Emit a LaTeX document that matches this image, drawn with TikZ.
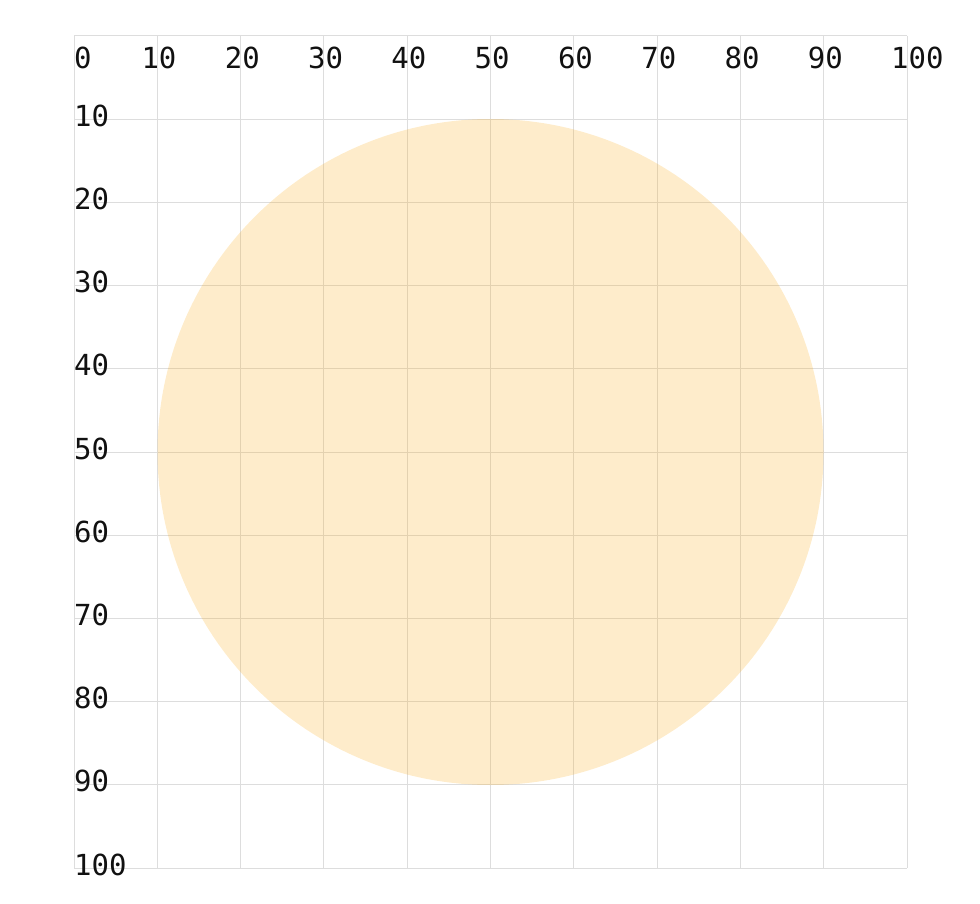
\documentclass[tikz,border=0pt]{standalone}
\usepackage{fontspec}
\setmonofont{DejaVu Sans Mono}
\begin{document}
\begin{tikzpicture}[x=1pt,y=-1pt,
  gridline/.style={draw={rgb,255:red,221;green,221;blue,221}, line width=1pt},
  lbl/.style={font=\ttfamily\fontsize{29}{29}\selectfont, inner sep=0pt, anchor=base west, text={rgb,255:red,17;green,17;blue,17}}]
\useasboundingbox (0,0) rectangle (980,904);
\foreach \i in {0,...,10} {
  \draw[gridline] ({74+83.3*\i},36) -- ({74+83.3*\i},868);
  \draw[gridline] (74,{36+83.2*\i}) -- (907,{36+83.2*\i});
}
\node[circle, fill={rgb,255:red,250;green,170;blue,20}, fill opacity=0.22, minimum size=666pt, inner sep=0pt] (disc) at (490.5,452) {};
\node[lbl] (t0) at (74,69) {0};
\foreach \v in {10,20,...,100} {
  \node[lbl] (t\v) at ({74+8.33*\v-16},69) {\v};
  \node[lbl] (l\v) at (74,{36+8.32*\v+7}) {\v};
}
\end{tikzpicture}
\end{document}
